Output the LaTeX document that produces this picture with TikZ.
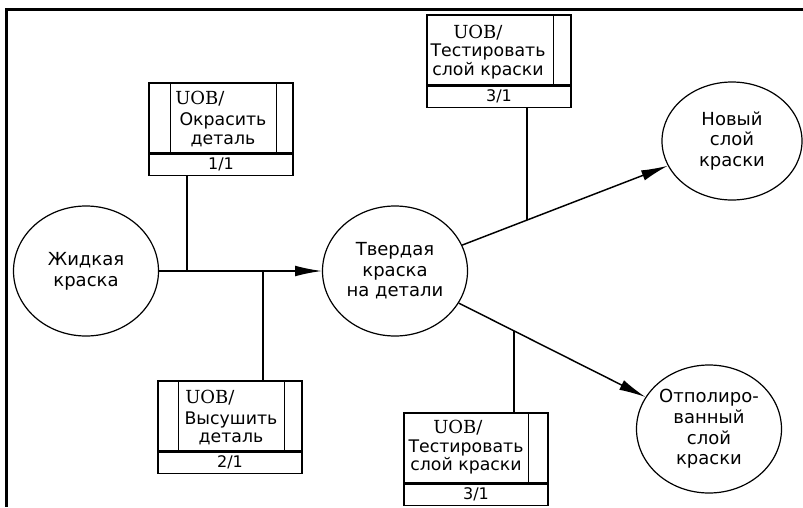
\documentclass[tikz,border=0pt]{standalone}
\usepackage{fontspec}
\setmainfont{DejaVu Sans}
\newfontfamily\uobfont{DejaVu Serif}
\usepackage{tikz}
\usetikzlibrary{shapes,arrows.meta,calc,positioning}
\tikzstyle{line} = [draw, line width=1.1pt, -{Latex[length=20pt,width=8pt]}]
\tikzstyle{link} = [draw, line width=1.1pt]
\tikzstyle{frame} = [draw, line width=2.25pt]
\tikzstyle{state} = [draw, ellipse, line width=0.9pt, inner sep=0pt, minimum width=108.75pt, minimum height=97.5pt, align=center, font=\fontsize{13.5}{15.5}\selectfont]
\tikzstyle{uob} = [draw, rectangle, line width=0.9pt, inner sep=0pt, minimum width=108pt, minimum height=52.5pt]
\tikzstyle{uobnum} = [draw, rectangle, line width=0.9pt, inner sep=0pt, minimum width=108pt, minimum height=15.75pt, font=\fontsize{12}{13}\selectfont]
\tikzstyle{uobname} = [align=center, inner sep=0pt, font=\fontsize{13}{14}\selectfont]
\tikzstyle{uobtag} = [anchor=west, inner sep=0pt, font=\uobfont\fontsize{13.5}{14}\selectfont]

\begin{document}
\begin{tikzpicture} [x=0.75pt, y=-0.75pt]

		\useasboundingbox (0,0) rectangle (803,507);
		\draw [frame] (803,9) -- (6,9) -- (6,507);

		% states
		\node [state] (zhid) at (86,271) {Жидкая\\краска};
		\node [state] (tverd) at (395,271) {Твердая\\краска\\на детали};
		\node [state, minimum width=105pt, minimum height=88.5pt] (novy) at (732,141) {Новый\\слой\\краски};
		\node [state, minimum height=96pt] (otpol) at (709,429) {Отполиро-\\ванный\\слой\\краски};

		% UOB boxes
		\node [uob] (okr) at (221,118) {};
		\node [uobnum, below=0pt of okr] (okrnum) {1/1};
		\node [uobtag] (okrtag) at (175,99) {UOB/};
		\node [uobname] (okrname) at (223,130) {Окрасить\\деталь};

		\node [uob] (sush) at (230,416) {};
		\node [uobnum, below=0pt of sush] (sushnum) {2/1};
		\node [uobtag] (sushtag) at (185,398) {UOB/};
		\node [uobname] (sushname) at (231,428.5) {Высушить\\деталь};

		\node [uob] (testa) at (499,50) {};
		\node [uobnum, below=0pt of testa] (testanum) {3/1};
		\node [uobtag] (testatag) at (453,33) {UOB/};
		\node [uobname] (testaname) at (488,61.5) {Тестировать\\слой краски};

		\node [uob] (testb) at (476,448) {};
		\node [uobnum, below=0pt of testb] (testbnum) {3/1};
		\node [uobtag] (testbtag) at (433,428) {UOB/};
		\node [uobname] (testbname) at (466,457) {Тестировать\\слой краски};

		% inner columns
		\foreach \b/\w in {okr/16.5pt, sush/15.75pt}
			\draw [line width=0.9pt] ([xshift=\w]\b.north west) -- ([xshift=\w]\b.south west);
		\foreach \b/\w in {okr/12.75pt, sush/13.5pt, testa/13.5pt, testb/15pt}
			\draw [line width=0.9pt] ([xshift=-\w]\b.north east) -- ([xshift=-\w]\b.south east);

		% flows
		\draw [line] (zhid) -- (tverd);
		\draw [line] (tverd) -- (novy);
		\draw [line] (tverd) -- (otpol);

		\coordinate (j1) at (187,271);
		\coordinate (j2) at (263,271);
		\coordinate (j3) at ($(tverd)!0.392!(novy)$);
		\coordinate (j4) at ($(tverd)!0.379!(otpol)$);

		\draw [link] (okrnum.south -| j1) -- (j1);
		\draw [link] (j2) -- (sush.north -| j2);
		\draw [link] (testanum.south -| j3) -- (j3);
		\draw [link] (j4) -- (testb.north -| j4);

\end{tikzpicture}
\end{document}
